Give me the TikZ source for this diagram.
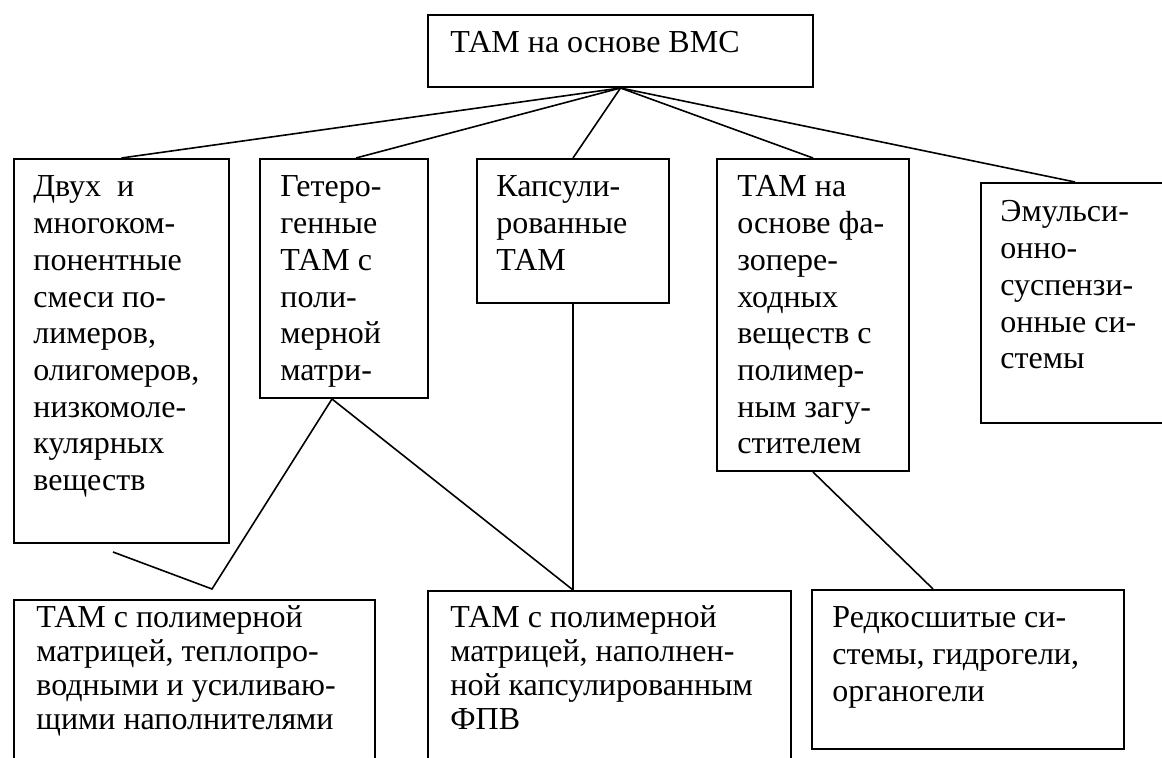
\documentclass[tikz,border=0pt]{standalone}
\usepackage{fontspec}
\setmainfont{Liberation Serif}

\tikzset{
  box/.style={draw, line width=1pt, anchor=north west, inner sep=0pt},
  txt/.style={anchor=base west, inner sep=0pt, font=\fontsize{16}{18.35}\selectfont},
  txttight/.style={txt, font=\fontsize{16}{17}\selectfont},
  link/.style={line width=0.8pt},
}
\newcommand{\boxlines}[1]{\begin{tabular}[t]{@{}l@{}}#1\end{tabular}}

\begin{document}
\begin{tikzpicture}[x=0.5pt, y=-0.5pt]
    \clip (0,0) rectangle (1162,758);

    % Root
    \node[box, minimum width=192.5pt, minimum height=36pt] (root) at (427,14) {};
    \node[txt] (root-t) at ([shift={(11.5pt,-19.5pt)}]root.north west) {ТАМ на основе ВМС};

    % Upper row
    \node[box, minimum width=107.5pt, minimum height=192pt] (mix) at (13,158) {};
    \node[box, minimum width=84pt, minimum height=119.5pt] (hetero) at (259,158) {};
    \node[box, minimum width=96pt, minimum height=72pt] (caps) at (476,158) {};
    \node[box, minimum width=96pt, minimum height=156pt] (phase) at (716,158) {};
    \node[box, minimum width=94pt, minimum height=120pt] (emul) at (980,182) {};

    \node[txt] (mix-t) at ([shift={(10pt,-19.5pt)}]mix.north west)
        {\boxlines{Двух\ \ и\\многоком-\\понентные\\смеси по-\\лимеров,\\олигомеров,\\низкомоле-\\кулярных\\веществ}};
    \node[txt] (hetero-t) at ([shift={(10.5pt,-19.5pt)}]hetero.north west)
        {\boxlines{Гетеро-\\генные\\ТАМ с\\поли-\\мерной\\матри-}};
    \node[txt] (caps-t) at ([shift={(10pt,-19.5pt)}]caps.north west)
        {\boxlines{Капсули-\\рованные\\ТАМ}};
    \node[txt] (phase-t) at ([shift={(10.5pt,-19.5pt)}]phase.north west)
        {\boxlines{ТАМ на\\основе фа-\\зопере-\\ходных\\веществ с\\полимер-\\ным загу-\\стителем}};
    \node[txt] (emul-t) at ([shift={(10pt,-20pt)}]emul.north west)
        {\boxlines{Эмульси-\\онно-\\суспензи-\\онные си-\\стемы}};

    % Lower row
    \node[box, minimum width=180.5pt, minimum height=90pt] (condfill) at (13,599) {};
    \node[box, minimum width=181.5pt, minimum height=95pt] (capsfill) at (427,590) {};
    \node[box, minimum width=156pt, minimum height=79.5pt] (gels) at (811,589) {};

    \node[txttight] (condfill-t) at ([shift={(11.5pt,-14.5pt)}]condfill.north west)
        {\boxlines{ТАМ с полимерной\\матрицей, теплопро-\\водными и усиливаю-\\щими наполнителями}};
    \node[txttight] (capsfill-t) at ([shift={(11.5pt,-19pt)}]capsfill.north west)
        {\boxlines{ТАМ с полимерной\\матрицей, наполнен-\\ной капсулированным\\ФПВ}};
    \node[txt] (gels-t) at ([shift={(10.5pt,-19.5pt)}]gels.north west)
        {\boxlines{Редкосшитые си-\\стемы, гидрогели,\\органогели}};

    % Links from the root
    \draw[link] (root.south) -- (mix.north);
    \draw[link] (root.south) -- ([xshift=6pt]hetero.north);
    \draw[link] (root.south) -- (caps.north);
    \draw[link] (root.south) -- (phase.north);
    \draw[link] (root.south) -- (emul.north);

    % Links to the lower row
    \coordinate (kink) at (212,589);
    \coordinate (tail) at (113,552);
    \draw[link] (caps.south) -- (caps.south |- capsfill.north);
    \draw[link] ([xshift=-6pt]hetero.south) -- (caps.south |- capsfill.north);
    \draw[link] ([xshift=-6pt]hetero.south) -- (kink) -- (tail);
    \draw[link] (phase.south) -- ([xshift=-17.5pt]gels.north);
\end{tikzpicture}
\end{document}
